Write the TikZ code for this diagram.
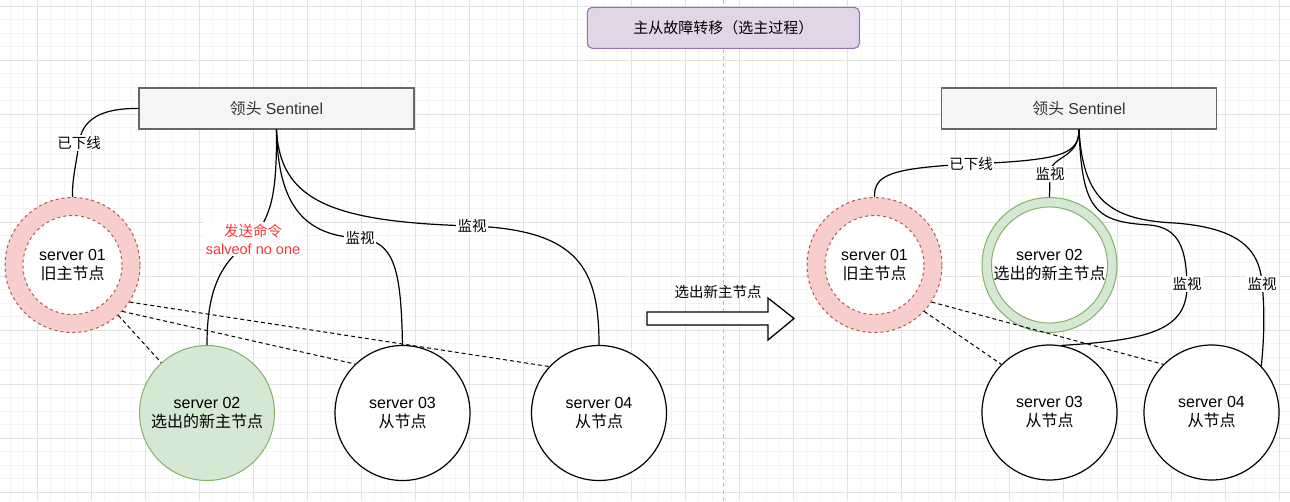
\documentclass[tikz,border=0pt]{standalone}
\usepackage{fontspec}
\setmainfont{Liberation Sans}
\newfontfamily\cjk{Noto Sans CJK SC}
\usepackage{tikz}
\usetikzlibrary{positioning}
\definecolor{gridmajor}{RGB}{226,226,226}
\definecolor{gridminor}{RGB}{244,244,244}
\definecolor{titlefill}{HTML}{E1D5E7}
\definecolor{titleline}{HTML}{9673A6}
\definecolor{sentfill}{HTML}{F5F5F5}
\definecolor{sentline}{HTML}{666666}
\definecolor{oldfill}{HTML}{F8CECC}
\definecolor{oldline}{HTML}{B85450}
\definecolor{newfill}{HTML}{D5E8D4}
\definecolor{newline}{HTML}{82B366}
\definecolor{cmdred}{HTML}{FF3333}

\begin{document}
\begin{tikzpicture}[x=1pt, y=-1pt,
        titlebox/.style={rectangle, rounded corners=5pt, draw=titleline, fill=titlefill,
                         line width=1.1pt, minimum width=272, minimum height=41,
                         font=\fontsize{15}{18}\selectfont\cjk},
        sentbox/.style={rectangle, draw=sentline, fill=sentfill, line width=1.1pt,
                        minimum width=275, minimum height=41, text=black!80,
                        font=\fontsize{15.8}{19}\selectfont},
        srv/.style={circle, draw, line width=1.2pt, fill=white, minimum size=135,
                    inner sep=0pt, align=center, font=\fontsize{16}{19}\selectfont},
        oldring/.style={circle, draw=oldline, fill=oldfill, dashed, line width=1pt,
                        minimum size=135, inner sep=0pt},
        oldcore/.style={circle, draw=oldline, fill=white, dashed, line width=1pt,
                        minimum size=99, inner sep=0pt, align=center,
                        font=\fontsize{16}{19}\selectfont},
        newring/.style={circle, draw=newline, fill=newfill, line width=1pt,
                        minimum size=135, inner sep=0pt},
        newcore/.style={circle, draw=newline, fill=white, line width=1pt,
                        minimum size=102, inner sep=0pt, align=center,
                        font=\fontsize{16}{19}\selectfont},
        newsrv/.style={srv, draw=newline, fill=newfill, line width=1pt},
        lbl/.style={fill=white, inner sep=1.5pt, align=center,
                    font=\fontsize{14.5}{18}\selectfont},
        link/.style={line width=1.2pt},
        slavelink/.style={line width=1pt, dash pattern=on 4pt off 3pt},
      ]
      \useasboundingbox[fill=white] (0,0) rectangle (1290,501);
      \foreach \gx in {10.3,23.8,...,1290} \draw[gridminor, line width=1pt] (\gx,0) -- (\gx,501);
      \foreach \gy in {6,19.5,...,501} \draw[gridminor, line width=1pt] (0,\gy) -- (1290,\gy);
      \foreach \gx in {37.3,91.3,...,1290} \draw[gridmajor, line width=1pt] (\gx,0) -- (\gx,501);
      \foreach \gy in {6,60,...,501} \draw[gridmajor, line width=1pt] (0,\gy) -- (1290,\gy);
      \draw[black!25, line width=1pt, dash pattern=on 4pt off 3pt] (723.3,0) -- (723.3,501);

      \node[titlebox] (title) at (723.3,27.8) {主从故障转移（选主过程）};

      % before
      \node[sentbox] (sentL) at (276.5,108.5) {{\cjk 领头} Sentinel};
      \node[oldring] (oldL) at (72.5,265) {};
      \node[oldcore] (oldLin) at (72.5,265) {server 01\\{\cjk 旧主节点}};
      \node[newsrv] (newL) at (207,413) {server 02\\{\cjk 选出的新主节点}};
      \node[srv] (slv3L) at (402.5,413) {server 03\\{\cjk 从节点}};
      \node[srv] (slv4L) at (599,413) {server 04\\{\cjk 从节点}};

      \draw[link] (sentL.west) .. controls (100,108) and (82,120) .. (79,143)
        node[lbl] {\cjk 已下线} .. controls (76,165) and (72,180) .. (oldL.north);
      \draw[link] (sentL.south) .. controls (277,200) and (270,215) .. (253,239)
        node[lbl, text=cmdred] {{\cjk 发送命令}\\salveof no one}
        .. controls (220,262) and (207,290) .. (newL.north);
      \draw[link] (sentL.south) .. controls (278,200) and (300,236) .. (360,238)
        node[lbl] {\cjk 监视} .. controls (395,242) and (401,270) .. (slv3L.north);
      \draw[link] (sentL.south) .. controls (280,200) and (330,222) .. (472,226)
        node[lbl] {\cjk 监视} .. controls (580,230) and (599,270) .. (slv4L.north);
      \draw[slavelink] (oldL) -- (newL);
      \draw[slavelink] (oldL.-43) -- (slv3L.134);
      \draw[slavelink] (oldL.-33) -- (slv4L.137);

      % shift
      \draw[line width=1.3pt, fill=white] (647,312) -- (768,312) -- (768,298) -- (794,318.5)
        -- (768,340) -- (768,325) -- (647,325) -- cycle;
      \node[lbl, fill=none] (shift) at (718,292) {\cjk 选出新主节点};

      % after
      \node[sentbox] (sentR) at (1079,108.5) {{\cjk 领头} Sentinel};
      \node[oldring] (oldR) at (874.5,265) {};
      \node[oldcore] (oldRin) at (874.5,265) {server 01\\{\cjk 旧主节点}};
      \node[newring] (newR) at (1049.5,265) {};
      \node[newcore] (newRin) at (1049.5,265) {server 02\\{\cjk 选出的新主节点}};
      \node[srv] (slv3R) at (1049.5,412.5) {server 03\\{\cjk 从节点}};
      \node[srv] (slv4R) at (1211.5,412.5) {server 04\\{\cjk 从节点}};

      \draw[link] (sentR.south) .. controls (1079,155) and (1060,160) .. (971,164)
        node[lbl] {\cjk 已下线} .. controls (890,168) and (874,175) .. (oldR.north);
      \draw[link] (sentR.south) .. controls (1079,160) and (1050,155) .. (1050,174)
        node[lbl] {\cjk 监视} -- (newR.north);
      \draw[link] (sentR.south) .. controls (1082,210) and (1095,222) .. (1150,225)
        .. controls (1180,228) and (1186,250) .. (1187,284) node[lbl] {\cjk 监视}
        .. controls (1188,330) and (1150,340) .. (slv3R.80);
      \draw[link] (sentR.south) .. controls (1083,200) and (1110,220) .. (1175,223)
        .. controls (1240,228) and (1260,250) .. (1262,284) node[lbl] {\cjk 监视}
        .. controls (1265,310) and (1264,340) .. (slv4R.43);
      \draw[slavelink] (oldR.-43) -- (slv3R.135);
      \draw[slavelink] (oldR.-33) -- (slv4R.135.6);
    \end{tikzpicture}
\end{document}
